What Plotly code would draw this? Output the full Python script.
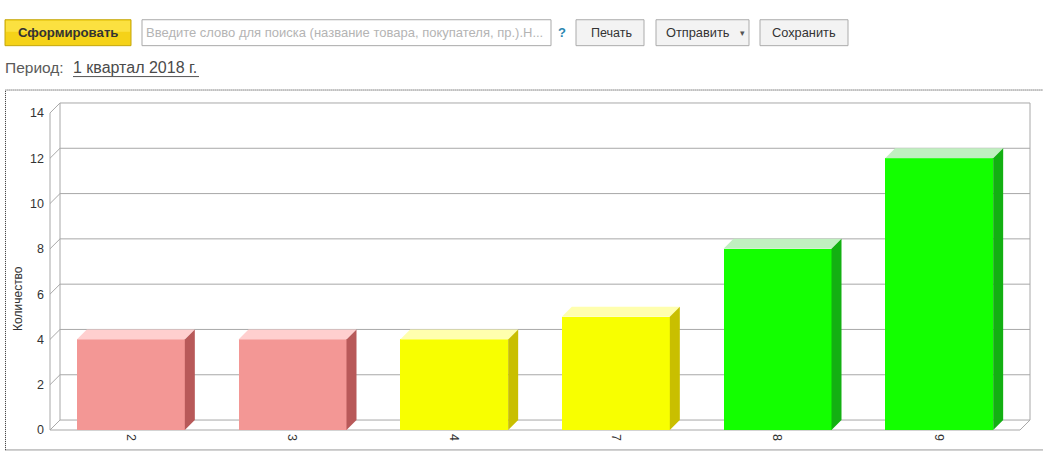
import plotly.graph_objects as go

# ---- data ----
categories = ["2", "3", "4", "7", "8", "9"]
quantities = [4, 4, 4, 5, 8, 12]
front_colors = ["#F39795", "#F39795", "#F8FF00", "#F8FF00", "#13FF00", "#13FF00"]
top_colors = ["#FFCFCF", "#FFCFCF", "#FFFFAE", "#FFFFAE", "#C0F0C0", "#C0F0C0"]
side_colors = ["#B85959", "#B85959", "#C9BF00", "#C9BF00", "#13B012", "#13B012"]
y_ticks = [0, 2, 4, 6, 8, 10, 12, 14]
y_max = 14
axis_title = "Количество"

# ---- page geometry (pixels) ----
W, H = 1043, 453
FL, BR = 50, 1030          # front-left axis x, back-right wall x
FB, BT = 430.5, 102.5      # front floor y, back-top y
DEPTH = 10                 # 3D depth offset in px
PAD = 3
BAR_W = 0.668
n = len(categories)

kx = (BR - DEPTH - FL) / n
ky = (FB - DEPTH - BT) / y_max
dx = DEPTH / kx
dy = DEPTH / ky

ml, mr = FL - PAD, W - BR - PAD
mt, mb = BT - PAD, H - FB - PAD
pw, ph = W - ml - mr, H - mt - mb


def px(x):
    return (x - ml) / pw


def py(y):
    return (H - mb - y) / ph


fig = go.Figure()

# front faces
fig.add_trace(go.Bar(
    x=list(range(n)), y=quantities, width=BAR_W,
    marker=dict(color=front_colors, line=dict(width=0)),
    showlegend=False, hoverinfo="skip",
))

# top and side faces of each bar
for i, v in enumerate(quantities):
    l, r = i - BAR_W / 2, i + BAR_W / 2
    fig.add_trace(go.Scatter(
        x=[l, r, r + dx, l + dx, l], y=[v, v, v + dy, v + dy, v],
        fill="toself", fillcolor=top_colors[i], mode="lines",
        line=dict(width=0), showlegend=False, hoverinfo="skip",
    ))
    fig.add_trace(go.Scatter(
        x=[r, r, r + dx, r + dx, r], y=[0, v, v + dy, dy, 0],
        fill="toself", fillcolor=side_colors[i], mode="lines",
        line=dict(width=0), showlegend=False, hoverinfo="skip",
    ))

# walls and grid of the 3D frame
GRID = dict(color="#A8A8A8", width=1)
x0, x1 = -0.5, n - 0.5
shapes = []
for v in y_ticks:
    shapes.append(dict(type="line", xref="x", yref="y", x0=x0, y0=v, x1=x0 + dx, y1=v + dy,
                       line=GRID, layer="below"))
    shapes.append(dict(type="line", xref="x", yref="y", x0=x0 + dx, y0=v + dy, x1=x1 + dx, y1=v + dy,
                       line=GRID, layer="below"))
for (a, b, c, d) in [
    (x0, 0, x0, y_max),
    (x0 + dx, dy, x0 + dx, y_max + dy),
    (x1 + dx, dy, x1 + dx, y_max + dy),
    (x0, 0, x1, 0),
    (x1, 0, x1 + dx, dy),
]:
    shapes.append(dict(type="line", xref="x", yref="y", x0=a, y0=b, x1=c, y1=d,
                       line=GRID, layer="below"))

# dotted frame around the chart
shapes.append(dict(type="rect", xref="paper", yref="paper",
                   x0=px(5.5), x1=px(1048), y0=py(450.5), y1=py(89.5),
                   line=dict(color="#333333", width=1, dash="1px,1px"), layer="below"))


# toolbar
def button(xa, xb, fill, border):
    shapes.append(dict(type="rect", xref="paper", yref="paper",
                       x0=px(xa), x1=px(xb), y0=py(45), y1=py(19),
                       fillcolor=fill, line=dict(color=border, width=1), layer="above"))


button(5, 131, "#F5D218", "#C4A60C")
shapes.append(dict(type="rect", xref="paper", yref="paper", x0=px(6), x1=px(130),
                   y0=py(31), y1=py(20), fillcolor="#FBE140", line=dict(width=0), layer="above"))
button(142, 551, "#FFFFFF", "#A9A9A9")
button(576, 644, "#F3F3F3", "#ABABAB")
button(656, 749, "#F3F3F3", "#ABABAB")
button(760, 848, "#F3F3F3", "#ABABAB")
# underline of the period link
shapes.append(dict(type="line", xref="paper", yref="paper", x0=px(73), x1=px(199),
                   y0=py(76), y1=py(76), line=dict(color="#555555", width=1)))

FONT = "Arial, Liberation Sans, sans-serif"
ann = []


def label(x, y, text, size, color, anchor="center", bold=False):
    ann.append(dict(xref="paper", yref="paper", x=px(x), y=py(y), text=f"<b>{text}</b>" if bold else text,
                    showarrow=False, xanchor=anchor, yanchor="middle", borderpad=0, borderwidth=0,
                    font=dict(family=FONT, size=size, color=color)))


label(68, 32, "Сформировать", 13.2, "#333333", bold=True)
label(146, 32, "Введите слово для поиска (название товара, покупателя, пр.).Н...", 13, "#B4B4B4", anchor="left")
label(562, 32, "<b>?</b>", 13, "#2A86B0")
label(611, 32, "Печать", 12.5, "#333333")
label(698, 32, "Отправить", 12.8, "#333333")
label(742, 32.5, "▾", 9, "#555555")
label(804, 32, "Сохранить", 12.8, "#333333")
label(5, 67, "Период:", 15.5, "#5A5A5A", anchor="left")
label(73, 67, "1 квартал 2018 г.", 16, "#4A4A4A", anchor="left")

# y axis title
ann.append(dict(xref="paper", yref="paper", x=px(18), y=py(299), text=axis_title, textangle=-90,
                showarrow=False, xanchor="center", yanchor="middle",
                font=dict(family=FONT, size=12, color="#333333")))

fig.update_layout(
    width=W, height=H,
    margin=dict(l=ml, r=mr, t=mt, b=mb, pad=0),
    paper_bgcolor="white", plot_bgcolor="white",
    shapes=shapes, annotations=ann,
    bargap=0,
    xaxis=dict(range=[x0 - PAD / kx, x1 + dx + PAD / kx], tickvals=list(range(n)), ticktext=categories,
               tickangle=90, showgrid=False, zeroline=False, showline=False, ticks="",
               tickfont=dict(family=FONT, size=12.5, color="#333333"), fixedrange=True),
    yaxis=dict(range=[-PAD / ky, y_max + dy + PAD / ky], tickvals=y_ticks, showgrid=False,
               zeroline=False, showline=False, ticks="", ticklabelstandoff=2,
               tickfont=dict(family=FONT, size=12.5, color="#333333"), fixedrange=True),
)

fig.write_html("out.html")
